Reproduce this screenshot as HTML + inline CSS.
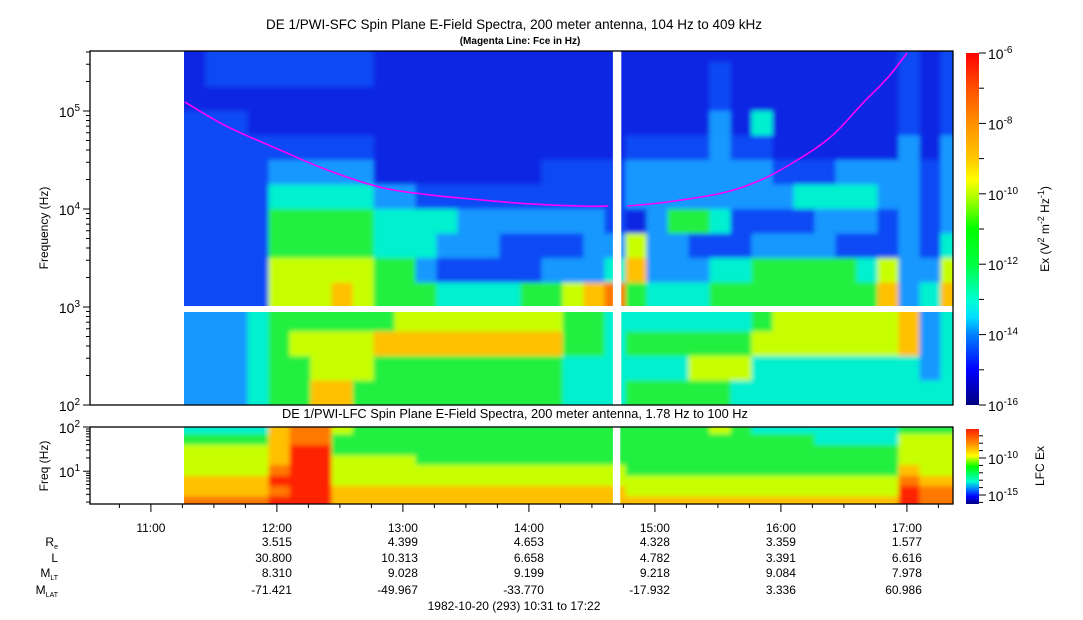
<!DOCTYPE html>
<html><head><meta charset="utf-8">
<style>
html,body{margin:0;padding:0;background:#fff;}
svg{display:block;font-family:"Liberation Sans",sans-serif;}
</style></head>
<body>
<svg id="chart" width="1083" height="620" viewBox="0 0 1083 620" xmlns="http://www.w3.org/2000/svg">
<defs>
<linearGradient id="cbgrad" x1="0" y1="0" x2="0" y2="1">
<stop offset="0" stop-color="#ff0000"/><stop offset="0.1" stop-color="#ff5000"/><stop offset="0.2" stop-color="#ff9000"/>
<stop offset="0.3" stop-color="#ffc800"/><stop offset="0.36" stop-color="#ffff00"/><stop offset="0.4" stop-color="#c0ff00"/>
<stop offset="0.5" stop-color="#00ff00"/><stop offset="0.6" stop-color="#00ff40"/><stop offset="0.7" stop-color="#00ffd0"/>
<stop offset="0.75" stop-color="#00e0ff"/><stop offset="0.8" stop-color="#0080ff"/><stop offset="0.9" stop-color="#0000ff"/>
<stop offset="1" stop-color="#000080"/>
</linearGradient>
<linearGradient id="cbgrad2" x1="0" y1="0" x2="0" y2="1">
<stop offset="0" stop-color="#ff2000"/><stop offset="0.2" stop-color="#ff9000"/><stop offset="0.36" stop-color="#ffff00"/>
<stop offset="0.5" stop-color="#00ff00"/><stop offset="0.7" stop-color="#00ffd0"/><stop offset="0.8" stop-color="#0080ff"/>
<stop offset="0.9" stop-color="#0000ff"/><stop offset="1" stop-color="#000080"/>
</linearGradient>
<filter id="soft" x="0" y="0" width="1" height="1"><feGaussianBlur stdDeviation="2.5"/></filter>
<clipPath id="clipTopHi"><rect x="184" y="51" width="769" height="256"/></clipPath>
<clipPath id="clipTopLo"><rect x="184" y="307" width="769" height="98"/></clipPath>
<clipPath id="clipLfc"><rect x="184" y="427" width="769" height="77"/></clipPath>
</defs>
<g clip-path="url(#clipTopHi)"><g id="heat-top" filter="url(#soft)"></g></g>
<g clip-path="url(#clipTopLo)"><g id="heat-low" filter="url(#soft)"></g></g>
<g clip-path="url(#clipLfc)"><g id="heat-lfc" filter="url(#soft)"></g></g>
<g id="overlay"></g>
<text x="514" y="29" font-size="13.5" text-anchor="middle">DE 1/PWI-SFC  Spin Plane E-Field Spectra, 200 meter antenna, 104 Hz to 409 kHz</text>
<text x="520" y="44" font-size="10" font-weight="bold" text-anchor="middle">(Magenta Line: Fce in Hz)</text>
<text x="515" y="418" font-size="12.8" text-anchor="middle">DE 1/PWI-LFC  Spin Plane E-Field Spectra, 200 meter antenna, 1.78 Hz to 100 Hz</text>
<text transform="translate(48,228) rotate(-90)" font-size="12" text-anchor="middle">Frequency (Hz)</text>
<text transform="translate(48,466) rotate(-90)" font-size="12" text-anchor="middle">Freq (Hz)</text>
<text transform="translate(1049,229) rotate(-90)" font-size="12" text-anchor="middle">Ex (V<tspan dy="-5" font-size="9">2</tspan><tspan dy="5"> m</tspan><tspan dy="-5" font-size="9">-2</tspan><tspan dy="5"> Hz</tspan><tspan dy="-5" font-size="9">-1</tspan><tspan dy="5">)</tspan></text>
<text transform="translate(1044,466) rotate(-90)" font-size="12" text-anchor="middle">LFC Ex</text>
<text x="514" y="610" font-size="12" text-anchor="middle">1982-10-20 (293) 10:31 to 17:22</text>
</svg>
<script>
// ---- data ----
const topFreqEdges = [5.61,5.5,5.25,5.0,4.75,4.5,4.25,4.0,3.75,3.5,3.25,3.0];
const lowFreqEdges = [3.0,2.75,2.5,2.25,2.0];
const topRows = [
"1222222221111111111111111111111111212",
"1222222221111111111111111211111111212",
"1111111111111111111111111211111111212",
"2221111111111111111111111314111111212",
"2222222221111111111112222322111111313",
"2222333331111111122223333333222333323",
"2222444443322222222223333333344443323",
"2222555554444333333321355422223332323",
"2222555554443332222336332223333222324",
"2222666665532222233347333445555546336",
"2222666765554444556785444555555557347"
];
const lowRows = [
"3334555555666666665544444445666666734",
"3334566667777777775545555556666666734",
"3334556665555555554444446664444444434",
"3334557755555555554445555544444444444"
];
const lfcFreqEdges = [2.0,1.84,1.59,1.36,1.14,0.89,0.66,0.43,0.25];
const lfcRows = [
"4444788655555555555555555654444444555",
"5555788555555555555555555555554444666",
"6666799555555555555555555555555555666",
"6666799666655555555555555555555555666",
"6666899666666666666665555555555555766",
"7777999666666666666666666666666666877",
"7777899777777777777776666666666666988",
"8888999777777777777777777777777777988"
];
const fceHours = [11.27,11.6,12.025,12.4,12.82,13.2,13.61,14.0,14.40,14.63];
const fceKHz = [123.6,70,40.0,25,16.7,14,12.4,11.3,10.7,10.7];
const fceHours2 = [14.78,15.1,15.54,15.85,16.13,16.4,16.65,16.85,17.0];
const fceKHz2 = [10.7,11.8,14.6,20,31.6,55,120,220,389];
const hourLabels = ['11:00','12:00','13:00','14:00','15:00','16:00','17:00'];
const hourVals = [11,12,13,14,15,16,17];
const infoHours = [12,13,14,15,16,17];
const reVals = ['3.515','4.399','4.653','4.328','3.359','1.577'];
const lVals = ['30.800','10.313','6.658','4.782','3.391','6.616'];
const mltVals = ['8.310','9.028','9.199','9.218','9.084','7.978'];
const mlatVals = ['-71.421','-49.967','-33.770','-17.932','3.336','60.986'];
const cmap = ['#000080','#0a26e4','#0c48f4','#1898ff','#00f0d0','#20f040','#c8ff00','#ffc000','#ff7800','#ff2000'];

// ---- axes ----
const X0=90, X1=953, START=10+31/60;
function xH(h){return X0+(h-START)*126;}
function yTop(lf){return 405-(lf-2)*98;}
function yLfc(lf){return 427+(2-lf)*44.2;}
const colStartH = 11+16/60, colW = 10/60, DATA_END = 17+22/60;
const NS='http://www.w3.org/2000/svg';
const svg=document.getElementById('chart');
function mk(tag,attrs,parent){const e=document.createElementNS(NS,tag);for(const k in attrs)e.setAttribute(k,attrs[k]);(parent||svg).appendChild(e);return e;}

function drawGrid(rows, edges, yf, g, name){
  rows.forEach((row,r)=>{
    const y0=yf(edges[r]), y1=yf(edges[r+1]);
    const ext0 = (r===0)?-8:0, ext1=(r===rows.length-1)?8:0;
    for(let c=0;c<37;c++){
      const v = +(row[c]||row[row.length-1]);
      const h0=colStartH+c*colW; if(h0>=DATA_END) break;
      let x0=xH(h0), x1=xH(Math.min(h0+colW,DATA_END));
      if(c===0) x0-=8; if(h0+colW>=DATA_END) x1+=8;
      const ya=Math.min(y0,y1)+ext0, yb=Math.max(y0,y1)+ext1;
      const rc=mk('rect',{x:x0.toFixed(1),y:ya.toFixed(1),width:(x1-x0+0.6).toFixed(1),height:(yb-ya+0.6).toFixed(1),fill:cmap[v],'shape-rendering':'crispEdges'},g);
      
      
    }
  });
}
const gTop=document.getElementById('heat-top'), gLow=document.getElementById('heat-low'), gL=document.getElementById('heat-lfc'), ov=document.getElementById('overlay');
drawGrid(topRows, topFreqEdges, yTop, gTop, 'sfc-cell');
drawGrid(lowRows, lowFreqEdges, yTop, gLow, 'sfc-cell');
drawGrid(lfcRows, lfcFreqEdges, yLfc, gL, 'lfc-cell');

const gap1=mk('rect',{x:xH(14+40/60),y:50,width:xH(14+44/60)-xH(14+40/60),height:356,fill:'#fff'},ov);


const gap2=mk('rect',{x:xH(14+40/60),y:427,width:xH(14+44/60)-xH(14+40/60)-1,height:77,fill:'#fff'},ov);


const gap3=mk('rect',{x:184,y:yTop(3.0)-1,width:953-184,height:6,fill:'#fff'},ov);



function splinePath(hs,ks){
  const p=hs.map((h,i)=>[xH(h),yTop(Math.log10(ks[i]*1000))]);
  let d='M'+p[0][0].toFixed(1)+','+p[0][1].toFixed(1);
  for(let i=0;i<p.length-1;i++){
    const p0=p[Math.max(i-1,0)],p1=p[i],p2=p[i+1],p3=p[Math.min(i+2,p.length-1)];
    const c1=[p1[0]+(p2[0]-p0[0])/6,p1[1]+(p2[1]-p0[1])/6], c2=[p2[0]-(p3[0]-p1[0])/6,p2[1]-(p3[1]-p1[1])/6];
    d+=' C'+c1.map(v=>v.toFixed(1)).join(',')+' '+c2.map(v=>v.toFixed(1)).join(',')+' '+p2.map(v=>v.toFixed(1)).join(',');
  }
  return d;
}
const f1=mk('path',{d:splinePath(fceHours,fceKHz),fill:'none',stroke:'#ff00ff','stroke-width':1.6},ov);


const f2=mk('path',{d:splinePath(fceHours2,fceKHz2),fill:'none',stroke:'#ff00ff','stroke-width':1.6},ov);



const fr1=mk('rect',{x:90,y:51,width:863,height:354,fill:'none',stroke:'#000','stroke-width':1.3},ov);


const fr2=mk('rect',{x:90,y:427,width:863,height:77,fill:'none',stroke:'#000','stroke-width':1.3},ov);



function line(x1,y1,x2,y2,name){const l=mk('line',{x1,y1,x2,y2,stroke:'#000','stroke-width':1},ov);

return l;}
function pow10(x,y,exp,name,anchor){
  const t=mk('text',{x,y,'font-size':14,'text-anchor':anchor||'end'},ov);
  
  
  t.innerHTML='10<tspan dy="-6" font-size="10">'+exp+'</tspan>';
  return t;
}
for(let d=2;d<=5;d++){
  line(83,yTop(d),90,yTop(d),'sfc-y-major-tick');
  pow10(80,yTop(d)+6,d,'sfc-y-tick-label');
  for(let m=2;m<=9;m++){const lf=d+Math.log10(m); if(lf>5.61)break; line(86,yTop(lf),90,yTop(lf),'sfc-y-minor-tick');}
}
[2,1].forEach(d=>{line(83,yLfc(d),90,yLfc(d),'lfc-y-major-tick');pow10(80,yLfc(d)+6,d,'lfc-y-tick-label');});
for(let d=0;d<=1;d++)for(let m=2;m<=9;m++){const lf=d+Math.log10(m); if(lf<0.25)continue; line(86,yLfc(lf),90,yLfc(lf),'lfc-y-minor-tick');}
for(let q=0;q<30;q++){const h=10.75+q*0.25; if(h>DATA_END)break; const maj=Math.abs(h-Math.round(h))<1e-6;
  line(xH(h),504,xH(h),maj?512:508,maj?'x-major-tick':'x-minor-tick');}
hourVals.forEach((h,i)=>{const t=mk('text',{x:xH(h),y:532,'font-size':12,'text-anchor':'middle'},ov);


t.textContent=hourLabels[i];});
function infoLabel(y,main,sub,name){const t=mk('text',{x:58,y,'font-size':12,'text-anchor':'end'},ov);


t.innerHTML=main+(sub?'<tspan dy="3" font-size="7">'+sub+'</tspan>':'');}
infoLabel(546,'R','e','re-row-label');
infoLabel(562,'L','','l-row-label');
infoLabel(577,'M','LT','mlt-row-label');
infoLabel(594,'M','LAT','mlat-row-label');
[[reVals,546,'re-value'],[lVals,562,'l-value'],[mltVals,577,'mlt-value'],[mlatVals,594,'mlat-value']].forEach(([arr,y,nm])=>{
  arr.forEach((v,i)=>{const t=mk('text',{x:xH(infoHours[i])+15,y,'font-size':12,'text-anchor':'end'},ov);
  
  
  t.textContent=v;});
});
const cb1=mk('rect',{x:966,y:53,width:13,height:352,fill:'url(#cbgrad)'},ov);


for(let e=-6;e>=-16;e--){const y=53+(-6-e)*35.2; const maj=(e%2===0);
  line(979,y,maj?986:984,y,'sfc-colorbar-tick'); if(maj)pow10(988,y+6,e,'sfc-colorbar-label','start');}
const cb2=mk('rect',{x:966,y:429,width:13,height:75,fill:'url(#cbgrad2)'},ov);


for(let e=-7;e>=-16;e--){const y=458+(-10-e)*7.4; if(y>504||y<429)continue; const maj=(e===-10||e===-15);
  line(979,y,maj?986:983,y,'lfc-colorbar-tick'); if(maj)pow10(988,y+6,e,'lfc-colorbar-label','start');}
</script>
</body></html>
